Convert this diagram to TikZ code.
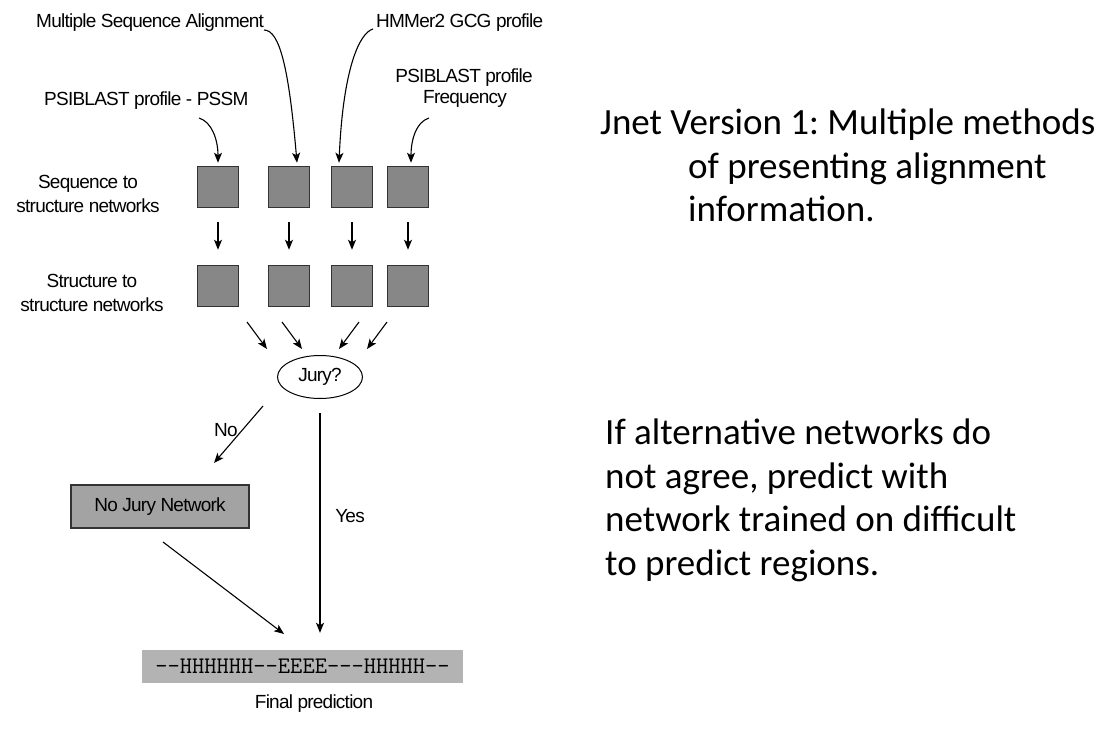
\documentclass[tikz,border=0pt]{standalone}
\usepackage{fontspec}
\setmainfont{Liberation Sans}
\newfontfamily\lab[LetterSpace=-4]{Liberation Sans}
\newfontfamily\slide{Carlito}
\newfontfamily\mono[Ligatures=NoCommon]{Latin Modern Mono}
\frenchspacing
\usetikzlibrary{arrows.meta,shapes.geometric}
\definecolor{netgray}{HTML}{878787}
\definecolor{boxgray}{HTML}{A3A3A3}
\definecolor{bargray}{HTML}{B3B3B3}
\definecolor{edge}{HTML}{333333}
\tikzset{
  arr/.style={line width=1.1pt, -{Stealth[length=10pt,width=8pt,inset=2.5pt]}},
  net/.style={draw=edge, line width=1.5pt, fill=netgray, minimum width=41pt, minimum height=41pt, inner sep=0pt},
  lbl/.style={font=\lab\fontsize{19}{24}\selectfont, inner sep=0pt},
  side/.style={lbl, align=center},
  para/.style={font=\slide\fontsize{37}{43.5}\selectfont\frenchspacing, inner sep=0pt, align=left, anchor=base west},
}
\begin{document}
\begin{tikzpicture}[x=1pt,y=-1pt]
\useasboundingbox (0,0) rectangle (1119,730);
% top labels
\node[lbl, anchor=base west] (msa) at (36,28) {Multiple Sequence Alignment};
\node[lbl, anchor=base west] (hmm) at (376,28) {HMMer2 GCG profile};
\node[lbl, anchor=base west] (pssm) at (44,106) {PSIBLAST profile - PSSM};
\node[lbl, anchor=base] (freq1) at (464,83) {PSIBLAST profile};
\node[lbl, anchor=base] (freq2) at (465,104) {Frequency};
% side labels
\node[side] (seqlab) at (88,194) {Sequence to\\structure networks};
\node[side] (strlab) at (92,293) {Structure to\\structure networks};
% network squares
\node[net] (s1) at (218,187) {};
\node[net] (s2) at (289,187) {};
\node[net] (s3) at (352,187) {};
\node[net] (s4) at (408,187) {};
\node[net] (t1) at (218,286) {};
\node[net] (t2) at (289,286) {};
\node[net] (t3) at (352,286) {};
\node[net] (t4) at (408,286) {};
% curved inputs
\coordinate (c1) at (199,118);
\coordinate (c2) at (264,30);
\coordinate (c3) at (373,29);
\coordinate (c4) at (429,118);
\draw[arr] (c1) .. controls (212,122) and (218,140) .. ([yshift=3pt]s1.north);
\draw[arr] (c2) .. controls (280,30) and (289,70) .. ([shift={(8,-3)}]s2.north);
\draw[arr] (c3) .. controls (359,33) and (343,70) .. ([shift={(-13,-3)}]s3.north);
\draw[arr] (c4) .. controls (416,122) and (411,140) .. ([shift={(3,-3)}]s4.north);
% seq -> struct
\foreach \i in {1,2,3,4}{
  \draw[arr, shorten <=14pt, shorten >=15pt] (s\i) -- (t\i);
}
% jury
\node[draw, ellipse, line width=1pt, minimum width=85pt, minimum height=43pt, inner sep=0pt, font=\lab\fontsize{19}{24}\selectfont] (jury) at (320,377) {Jury?};
\coordinate (d1a) at (247,322); \coordinate (d1b) at (267,349);
\coordinate (d2a) at (282,322); \coordinate (d2b) at (302,349);
\coordinate (d3a) at (359,322); \coordinate (d3b) at (339,349);
\coordinate (d4a) at (387,322); \coordinate (d4b) at (367,349);
\draw[arr] (d1a) -- (d1b);
\draw[arr] (d2a) -- (d2b);
\draw[arr] (d3a) -- (d3b);
\draw[arr] (d4a) -- (d4b);
% No branch
\coordinate (noa) at (263,406); \coordinate (nob) at (214,463);
\draw[arr] (noa) -- (nob);
\node[lbl] (nolab) at (226,430) {No};
\node[draw=edge, line width=1.5pt, fill=boxgray, minimum width=178pt, minimum height=43pt, inner sep=0pt, font=\lab\fontsize{19}{24}\selectfont] (nojury) at (160,506.5) {No Jury Network};
% final prediction bar
\node[fill=bargray, minimum width=321pt, minimum height=33pt, inner sep=0pt, font=\mono\fontsize{23.8}{26}\selectfont] (bar) at (302.5,666.5) {-{}-HHHHHH-{}-EEEE-{}-{}-HHHHH-{}-};
\node[lbl] (final) at (314,704) {Final prediction};
% Yes branch
\draw[arr, shorten <=14pt, shorten >=17pt] (jury.south) -- (jury.south |- bar.north);
\node[lbl] (yeslab) at (350,516) {Yes};
\coordinate (na) at (163,542); \coordinate (nb) at (284,634);
\draw[arr] (na) -- (nb);
% right text
\node[para] (t1txt) at (600,222) {Jnet Version 1: Multiple methods\\\hspace*{88pt}of presenting alignment\\\hspace*{88pt}information.};
\node[para] (t2txt) at (605,575) {If alternative networks do\\not agree, predict with\\network trained on difficult\\to predict regions.};
\end{tikzpicture}
\end{document}
